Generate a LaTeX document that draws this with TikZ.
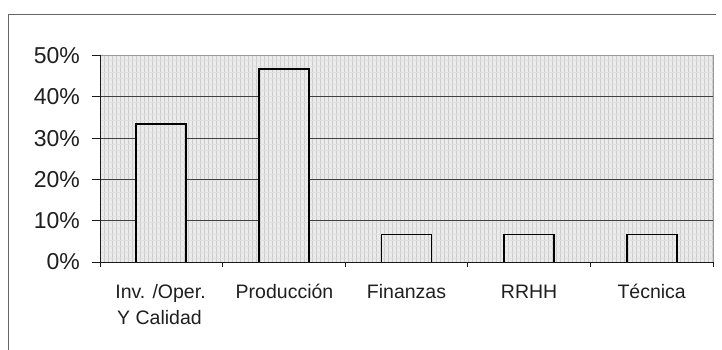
\documentclass[tikz,border=0pt]{standalone}
\usepackage{fontspec}
\setmainfont{Liberation Sans}
\newcommand{\texturebox}[4]{%
  \begin{scope}
    \clip (#1,#2) rectangle (#3,#4);
    \fill[black!8] (#1,#2) rectangle (#3,#4);
    \foreach \vx in {0,4,...,720}{\draw[tex] (\vx,0) -- (\vx,350);}
    \foreach \vy in {0,6,...,350}{\draw[texh] (0,\vy) -- (722,\vy);}
  \end{scope}}
\tikzset{
  tex/.style={black!20,line width=0.5pt},
  texh/.style={black!12,line width=0.5pt},
  frameline/.style={black!60,line width=1pt},
  plotborder/.style={black!40,line width=0.8pt},
  gridline/.style={black!75,line width=0.9pt},
  axisline/.style={black!90,line width=1pt},
  bar/.style={black,line width=1.8pt},
  ylab/.style={anchor=east,font=\fontsize{23}{27}\selectfont,text=black!88,inner sep=0pt},
  xlab/.style={anchor=base,font=\fontsize{19.5}{26}\selectfont,text=black!88,inner sep=0pt}
}
\begin{document}
\begin{tikzpicture}[x=1pt,y=-1pt]
\useasboundingbox (0,0) rectangle (722,350);
\fill[white] (0,0) rectangle (722,350);
% outer frame
\draw[frameline] (8,350) -- (8,15) -- (716,15);
% plot area
\texturebox{100}{55.5}{713}{262}
\draw[plotborder] (100,55.5) -- (713,55.5) -- (713,266);
% gridlines
\foreach \gy in {220.7,179.4,138.1,96.8}{\draw[gridline] (100,\gy) -- (713,\gy);}
% bars
\foreach \bx/\by in {136.3/124.3, 258.9/69.2, 381.5/234.5, 504.1/234.5, 626.7/234.5}{
  \texturebox{\bx}{\by}{\bx+50}{262}
  \draw[bar] (\bx,262) -- (\bx,\by) -- (\bx+50,\by) -- (\bx+50,262);
}
% axes
\draw[axisline] (100,55.5) -- (100,262) -- (713,262);
\foreach \gy in {262,220.7,179.4,138.1,96.8,55.5}{\draw[axisline] (92,\gy) -- (100,\gy);}
\foreach \tx in {100,222.6,345.2,467.8,590.4,713}{\draw[axisline] (\tx,262) -- (\tx,267);}
% y labels
\node[ylab] (y0) at (80,262) {0\%};
\node[ylab] (y1) at (80,220.7) {10\%};
\node[ylab] (y2) at (80,179.4) {20\%};
\node[ylab] (y3) at (80,138.1) {30\%};
\node[ylab] (y4) at (80,96.8) {40\%};
\node[ylab] (y5) at (80,55.5) {50\%};
% x labels
\node[xlab] (c1) at (160.5,298) {Inv. /Oper.};
\node[xlab] (c1b) at (159.5,324.5) {Y Calidad};
\node[xlab] (c2) at (284.5,298) {Producción};
\node[xlab] (c3) at (406.5,298) {Finanzas};
\node[xlab] (c4) at (529.1,298) {RRHH};
\node[xlab] (c5) at (651.7,298) {Técnica};
\end{tikzpicture}
\end{document}
